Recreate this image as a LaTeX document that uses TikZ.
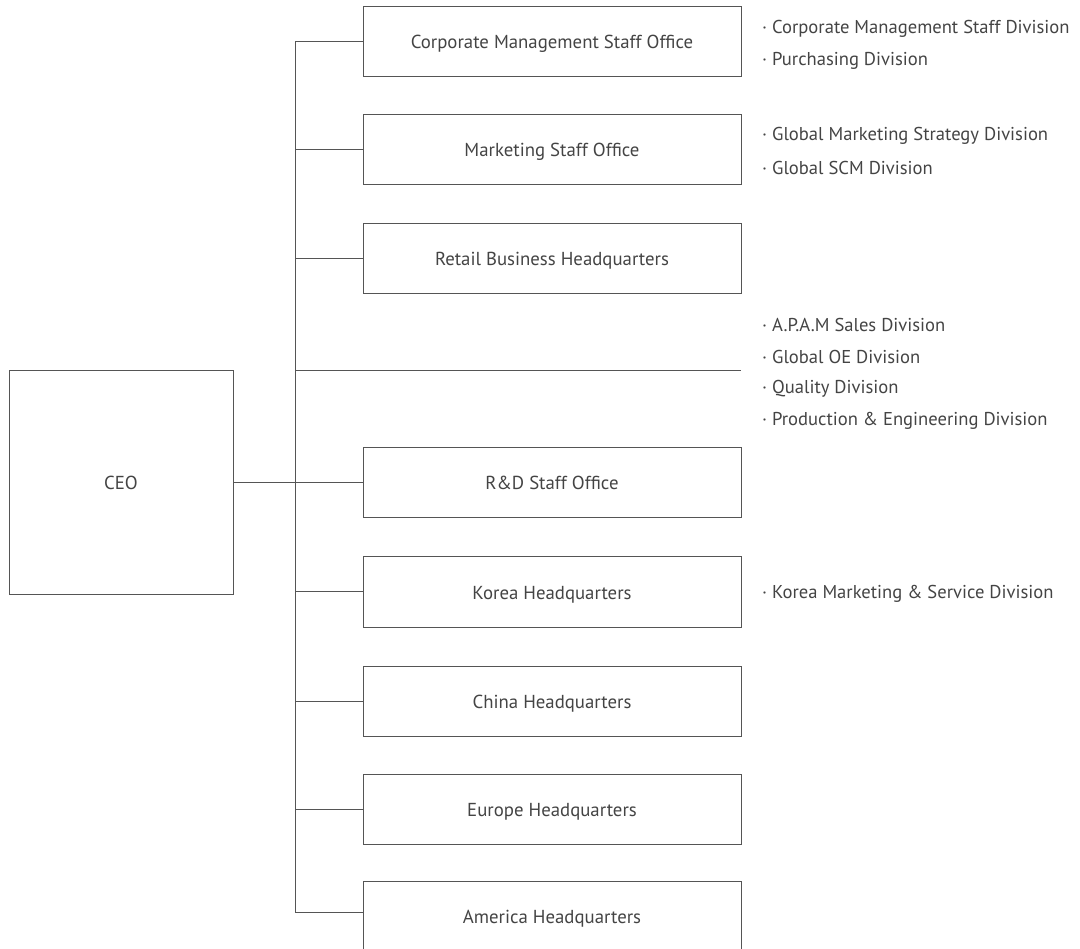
\documentclass[tikz,border=0pt]{standalone}
\usepackage{fontspec}
\setmainfont{PT Sans}
\usetikzlibrary{positioning}
\definecolor{linegray}{HTML}{555555}
\definecolor{textgray}{HTML}{444444}
\tikzset{
  office/.style={draw=linegray, line width=1pt, minimum width=378pt, minimum height=70pt, inner sep=0pt, text height=15pt, text depth=1pt, text=textgray, font=\fontsize{18.8}{22}\selectfont},
  division/.style={anchor=west, inner sep=0pt, yshift=-2pt, text=textgray, font=\fontsize{18.6}{22}\selectfont},
  link/.style={draw=linegray, line width=1pt}
}
\begin{document}
\begin{tikzpicture}[x=1pt, y=-1pt]
  \useasboundingbox (0,0) rectangle (1080,949);
  \node[office, minimum width=224pt, minimum height=224pt] (ceo) at (121,483) {CEO};
  \node[office] (cmso) at (552,42) {Corporate Management Staff Office};
  \node[office] (mso) at (552,150) {Marketing Staff Office};
  \node[office] (rbh) at (552,259) {Retail Business Headquarters};
  \node[office] (rdso) at (552,483) {R\&D Staff Office};
  \node[office] (krh) at (552,592) {Korea Headquarters};
  \node[office] (cnh) at (552,701) {China Headquarters};
  \node[office] (euh) at (552,809) {Europe Headquarters};
  \node[office] (amh) at (552,916) {America Headquarters};
  \coordinate (trunktop) at (295,42);
  \coordinate (trunkbot) at (295,912);
  \coordinate (midstart) at (295,371);
  \coordinate (midend) at (741,371);
  % trunk and branches
  \draw[link] (cmso.west) -- (trunktop) -- (trunkbot) -- (trunkbot -| amh.west);
  \foreach \b in {mso, rbh, krh, cnh, euh}
    \draw[link] (trunktop |- \b.west) -- (\b.west);
  \draw[link] (ceo.east) -- (rdso.west);
  \draw[link] (midstart) -- (midend);
  % divisions
  \node[division] (d1) at (762,27) {· Corporate Management Staff Division};
  \node[division] (d2) at (762,59) {· Purchasing Division};
  \node[division] (d3) at (762,134) {· Global Marketing Strategy Division};
  \node[division] (d4) at (762,166) {· Global SCM Division};
  \node[division] (d5) at (762,323) {· A.P.A.M Sales Division};
  \node[division] (d6) at (762,355) {· Global OE Division};
  \node[division] (d7) at (762,387) {· Quality Division};
  \node[division] (d8) at (762,419) {· Production \& Engineering Division};
  \node[division] (d9) at (762,592) {· Korea Marketing \& Service Division};
\end{tikzpicture}
\end{document}
